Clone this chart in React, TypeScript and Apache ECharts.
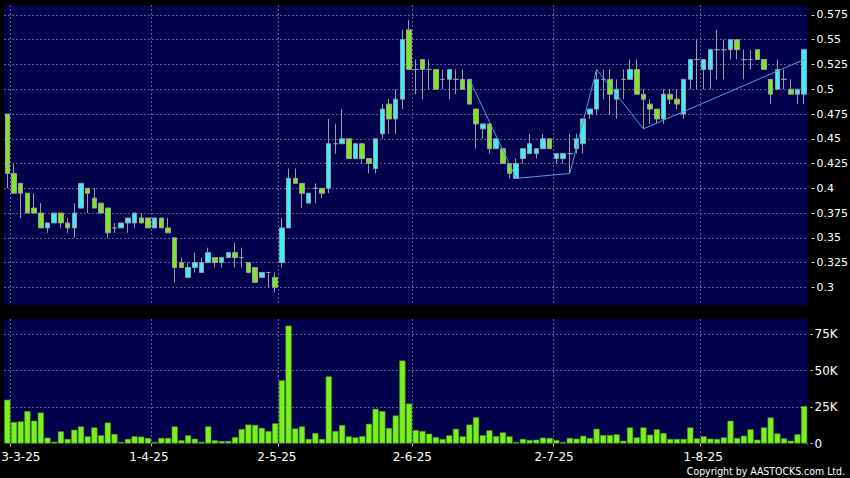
import React, { useEffect, useRef } from "react";
import * as echarts from "echarts";

// ---- categories: HK trading days from 28-2-25 ----
const holidays = ["2025-04-04", "2025-04-18", "2025-04-21", "2025-05-01", "2025-05-05", "2025-07-01"];
const dayCount = 120;
function tradingDays(): string[] {
  const out: string[] = [];
  const d = new Date(Date.UTC(2025, 1, 28));
  while (out.length < dayCount) {
    const iso = d.toISOString().slice(0, 10);
    const wd = d.getUTCDay();
    if (wd !== 0 && wd !== 6 && !holidays.includes(iso)) {
      out.push(`${d.getUTCDate()}-${d.getUTCMonth() + 1}-${String(d.getUTCFullYear()).slice(2)}`);
    }
    d.setUTCDate(d.getUTCDate() + 1);
  }
  return out;
}
const dates = tradingDays();
const monthLabels = ["3-3-25", "1-4-25", "2-5-25", "2-6-25", "2-7-25", "1-8-25"];

// ---- price series ----
const opens = [
  0.475, 0.415, 0.405, 0.395, 0.38, 0.375, 0.36, 0.365, 0.375, 0.365,
  0.36, 0.38, 0.4, 0.39, 0.385, 0.38, 0.36, 0.36, 0.365, 0.365,
  0.37, 0.37, 0.36, 0.37, 0.36, 0.35, 0.325, 0.31, 0.32, 0.315,
  0.325, 0.33, 0.325, 0.33, 0.335, 0.33, 0.325, 0.32, 0.31, 0.315,
  0.31, 0.325, 0.36, 0.41, 0.405, 0.385, 0.4, 0.4, 0.4, 0.445,
  0.445, 0.45, 0.43, 0.445, 0.43, 0.42, 0.455, 0.485, 0.47, 0.49,
  0.56, 0.52, 0.53, 0.52, 0.52, 0.51, 0.51, 0.51, 0.51, 0.51,
  0.48, 0.46, 0.465, 0.44, 0.44, 0.425, 0.41, 0.43, 0.435, 0.435,
  0.44, 0.45, 0.43, 0.43, 0.435, 0.44, 0.445, 0.475, 0.48, 0.51,
  0.51, 0.49, 0.51, 0.51, 0.52, 0.495, 0.485, 0.48, 0.47, 0.495,
  0.49, 0.475, 0.51, 0.53, 0.52, 0.52, 0.54, 0.54, 0.54, 0.55,
  0.53, 0.53, 0.54, 0.53, 0.51, 0.5, 0.51, 0.5, 0.495, 0.495,
];
const closes = [
  0.415, 0.395, 0.395, 0.375, 0.375, 0.36, 0.365, 0.375, 0.365, 0.36,
  0.375, 0.405, 0.395, 0.38, 0.375, 0.355, 0.36, 0.365, 0.37, 0.375,
  0.365, 0.36, 0.37, 0.36, 0.355, 0.32, 0.32, 0.32, 0.325, 0.325,
  0.335, 0.325, 0.33, 0.335, 0.33, 0.33, 0.315, 0.305, 0.315, 0.315,
  0.3, 0.36, 0.41, 0.405, 0.395, 0.395, 0.4, 0.395, 0.445, 0.445,
  0.45, 0.43, 0.445, 0.43, 0.425, 0.45, 0.48, 0.47, 0.49, 0.55,
  0.52, 0.52, 0.52, 0.52, 0.5, 0.51, 0.52, 0.51, 0.5, 0.485,
  0.465, 0.465, 0.44, 0.45, 0.425, 0.415, 0.425, 0.44, 0.445, 0.44,
  0.45, 0.44, 0.435, 0.435, 0.435, 0.45, 0.47, 0.48, 0.51, 0.51,
  0.495, 0.5, 0.51, 0.52, 0.495, 0.49, 0.48, 0.47, 0.495, 0.49,
  0.485, 0.51, 0.53, 0.53, 0.53, 0.54, 0.54, 0.54, 0.55, 0.54,
  0.53, 0.53, 0.53, 0.52, 0.495, 0.52, 0.51, 0.495, 0.5, 0.54,
];
const lows = [
  0.4, 0.395, 0.37, 0.375, 0.375, 0.36, 0.355, 0.365, 0.36, 0.355,
  0.35, 0.38, 0.375, 0.38, 0.375, 0.35, 0.355, 0.36, 0.355, 0.36,
  0.365, 0.36, 0.36, 0.36, 0.355, 0.305, 0.32, 0.31, 0.315, 0.315,
  0.325, 0.32, 0.32, 0.33, 0.32, 0.32, 0.315, 0.305, 0.31, 0.3,
  0.295, 0.32, 0.36, 0.405, 0.38, 0.385, 0.385, 0.39, 0.395, 0.435,
  0.445, 0.43, 0.43, 0.425, 0.415, 0.415, 0.45, 0.455, 0.455, 0.48,
  0.52, 0.495, 0.49, 0.5, 0.5, 0.5, 0.49, 0.495, 0.5, 0.485,
  0.44, 0.45, 0.435, 0.44, 0.425, 0.41, 0.41, 0.425, 0.435, 0.43,
  0.44, 0.44, 0.425, 0.425, 0.415, 0.435, 0.435, 0.47, 0.475, 0.49,
  0.475, 0.47, 0.49, 0.51, 0.495, 0.46, 0.465, 0.465, 0.465, 0.485,
  0.48, 0.47, 0.5, 0.5, 0.5, 0.5, 0.51, 0.51, 0.53, 0.53,
  0.51, 0.52, 0.53, 0.52, 0.485, 0.5, 0.5, 0.495, 0.485, 0.485,
];
const highs = [
  0.475, 0.425, 0.405, 0.395, 0.395, 0.385, 0.365, 0.375, 0.375, 0.37,
  0.385, 0.405, 0.4, 0.4, 0.385, 0.38, 0.365, 0.365, 0.37, 0.375,
  0.375, 0.37, 0.37, 0.37, 0.37, 0.35, 0.33, 0.325, 0.335, 0.33,
  0.34, 0.33, 0.33, 0.335, 0.345, 0.34, 0.325, 0.32, 0.315, 0.315,
  0.315, 0.37, 0.42, 0.42, 0.405, 0.395, 0.405, 0.4, 0.47, 0.465,
  0.48, 0.45, 0.445, 0.445, 0.43, 0.45, 0.485, 0.49, 0.5, 0.56,
  0.57, 0.53, 0.53, 0.53, 0.52, 0.52, 0.52, 0.52, 0.52, 0.51,
  0.48, 0.465, 0.465, 0.45, 0.44, 0.425, 0.43, 0.44, 0.455, 0.44,
  0.455, 0.45, 0.435, 0.435, 0.455, 0.455, 0.47, 0.48, 0.52, 0.52,
  0.52, 0.51, 0.52, 0.53, 0.53, 0.5, 0.49, 0.48, 0.5, 0.5,
  0.5, 0.51, 0.53, 0.55, 0.53, 0.54, 0.56, 0.55, 0.55, 0.55,
  0.54, 0.54, 0.54, 0.53, 0.51, 0.53, 0.52, 0.51, 0.5, 0.54,
];

// ---- volume (thousands of shares) ----
const volumeK = [
  30, 14.7, 15.1, 22.2, 15.6, 21.2, 4, 1.2, 8.3, 3.1,
  9.4, 11.7, 4.9, 11, 5.6, 14.4, 6.5, 1, 3.1, 4.9,
  4.7, 3.8, 1, 3.8, 3.8, 11.7, 2.2, 5.6, 3.3, 1.2,
  11.7, 2.2, 1.7, 1.7, 4.4, 9.9, 13, 12.8, 10.7, 8.5,
  13.8, 43.3, 80.8, 10.3, 11.7, 3.1, 7.2, 3.1, 46, 8.5,
  12.6, 4.9, 4.2, 5.1, 13.5, 23.8, 22.2, 10.6, 19.2, 56.9,
  27.4, 9.2, 8.5, 6.7, 4.4, 3.1, 5.6, 10.1, 4.9, 13,
  18, 5.6, 9, 5.1, 7.6, 4.9, 1, 3.1, 2.4, 2.6,
  4, 3.8, 2.4, 1, 3.8, 3.3, 5.3, 3.8, 10.1, 5.8,
  5.8, 6.3, 1.9, 11, 4.2, 11, 6, 9.7, 7.2, 3.1,
  3.1, 3.1, 11, 3.5, 4.9, 3.3, 3.1, 4.2, 15.6, 3.8,
  5.3, 9.7, 2.6, 11, 17.8, 6.9, 3.5, 1.9, 6.3, 25.6,
];

// ---- zigzag trend line ----
const zigIdx = [69, 76, 84, 88, 95, 119];
const zigVal = [0.51, 0.41, 0.415, 0.52, 0.46, 0.53];

// ---- axis ticks ----
const priceTicks = [0.3, 0.325, 0.35, 0.375, 0.4, 0.425, 0.45, 0.475, 0.5, 0.525, 0.55, 0.575];
const volTicks = [0, 25000, 50000, 75000];
const volTickLabels = ["0", "25K", "50K", "75K"];

// label nudges: [left, right] padding in px (text moves by (left - right) / 2)
const labelPads = [
  [13.5, 0],
  [0, 11.5],
  [0, 10],
  [0, 7],
  [0, 4.6],
  [0, 1],
];

const NAVY = "#00004b";
const GRIDC = "#5f5f95";
const CYAN = "#35f2ff";
const GREEN = "#7de81f";
const VGREEN = "#7cf01f";
const WICK = "#9c9c9c";
const FONT = "DejaVu Sans";

export default function App() {
  const ref = useRef<HTMLDivElement>(null);
  useEffect(() => {
    const chart = echarts.init(ref.current!, null, { renderer: "svg" });
    const isMonth = (_i: number, v: string) => monthLabels.includes(v);
    const split = {
      show: true,
      interval: isMonth,
      showMaxLine: false,
      lineStyle: { color: GRIDC, type: [2, 2], width: 1 },
    };
    const rich: Record<string, any> = {};
    labelPads.forEach(([l, r], k) => {
      rich["p" + k] = { color: "#ffffff", fontSize: 12, fontFamily: FONT, padding: [0, r, 0, l] };
    });
    const candleData = opens.map((o, i) => [o, closes[i], lows[i], highs[i]]);
    chart.setOption({
      animation: false,
      backgroundColor: "#000",
      grid: [
        {
          left: 4, top: 5, width: 803.5, height: 300, show: true, backgroundColor: NAVY, borderWidth: 0,
          containLabel: false, outerBoundsMode: "none",
        },
        {
          left: 4, top: 319, width: 803.5, height: 124.5, show: true, backgroundColor: NAVY, borderWidth: 0,
          containLabel: false, outerBoundsMode: "none",
        },
      ],
      xAxis: [
        {
          type: "category",
          gridIndex: 0,
          data: dates,
          boundaryGap: true,
          axisLine: { show: false },
          axisTick: { show: false },
          axisLabel: { show: false },
          splitLine: split,
        },
        {
          type: "category",
          gridIndex: 1,
          data: dates,
          boundaryGap: true,
          offset: 2,
          axisLine: { show: false },
          axisTick: { show: true, interval: isMonth, length: 3, lineStyle: { color: "#bbbbbb" } },
          axisLabel: {
            interval: isMonth,
            color: "#ffffff",
            fontSize: 12,
            fontFamily: FONT,
            margin: 5,
            formatter: (v: string) => {
              const k = monthLabels.indexOf(v);
              return k >= 0 ? `{p${k}|${v}}` : v;
            },
            rich,
          },
          splitLine: split,
        },
      ],
      yAxis: [
        {
          type: "value",
          gridIndex: 0,
          position: "right",
          min: 0.28213,
          max: 0.58509,
          offset: 4,
          axisLine: { show: false },
          axisTick: { show: true, length: 3, customValues: priceTicks, lineStyle: { color: "#dddddd" } },
          axisLabel: {
            customValues: priceTicks,
            color: "#ffffff",
            fontSize: 11,
            fontFamily: FONT,
            margin: 5,
            formatter: (v: number) => String(v),
          },
          splitLine: { show: true, lineStyle: { color: GRIDC, type: [2, 2], width: 1 } },
        },
        {
          type: "value",
          gridIndex: 1,
          position: "right",
          min: 0,
          max: 85350,
          offset: 3,
          axisLine: { show: false },
          axisTick: { show: true, length: 2, customValues: volTicks, lineStyle: { color: "#dddddd" } },
          axisLabel: {
            customValues: volTicks,
            color: "#ffffff",
            fontSize: 12,
            fontFamily: FONT,
            margin: 4,
            formatter: (v: number) => volTickLabels[volTicks.indexOf(v)] ?? String(v),
          },
          splitLine: { show: true, showMinLine: false, lineStyle: { color: GRIDC, type: [2, 2], width: 1 } },
        },
      ],
      series: [
        {
          type: "candlestick",
          xAxisIndex: 0,
          yAxisIndex: 0,
          data: candleData,
          barWidth: 5,
          itemStyle: {
            color: CYAN,
            color0: GREEN,
            borderColor: WICK,
            borderColor0: WICK,
            borderWidth: 1,
          },
        },
        {
          type: "line",
          xAxisIndex: 0,
          yAxisIndex: 0,
          data: zigIdx.map((x, k) => [x, zigVal[k]]),
          symbol: "none",
          lineStyle: { color: "#4aa0dc", width: 1 },
          z: 5,
        },
        {
          type: "bar",
          xAxisIndex: 1,
          yAxisIndex: 1,
          data: volumeK.map((v) => v * 1000),
          barWidth: 6.1,
          itemStyle: { color: VGREEN, borderColor: "#48a01a", borderWidth: 0.6 },
        },
      ],
      graphic: {
        elements: [
          {
            type: "rect",
            z: 100,
            shape: { x: 803, y: 444.5, width: 10, height: 6 },
            style: { fill: "#000" },
          },
          {
            type: "text",
            z: 100,
            x: 845,
            y: 471,
            scaleX: 0.855,
            style: {
              text: "Copyright by AASTOCKS.com Ltd.",
              fill: "#ffffff",
              font: `11px "${FONT}"`,
              align: "right",
              verticalAlign: "middle",
            },
          },
        ],
      },
    });
    return () => chart.dispose();
  }, []);
  return (
    <div
      ref={ref}
      style={{ position: "absolute", left: 0, top: 0, width: 850, height: 478, background: "#000" }}
    />
  );
}
